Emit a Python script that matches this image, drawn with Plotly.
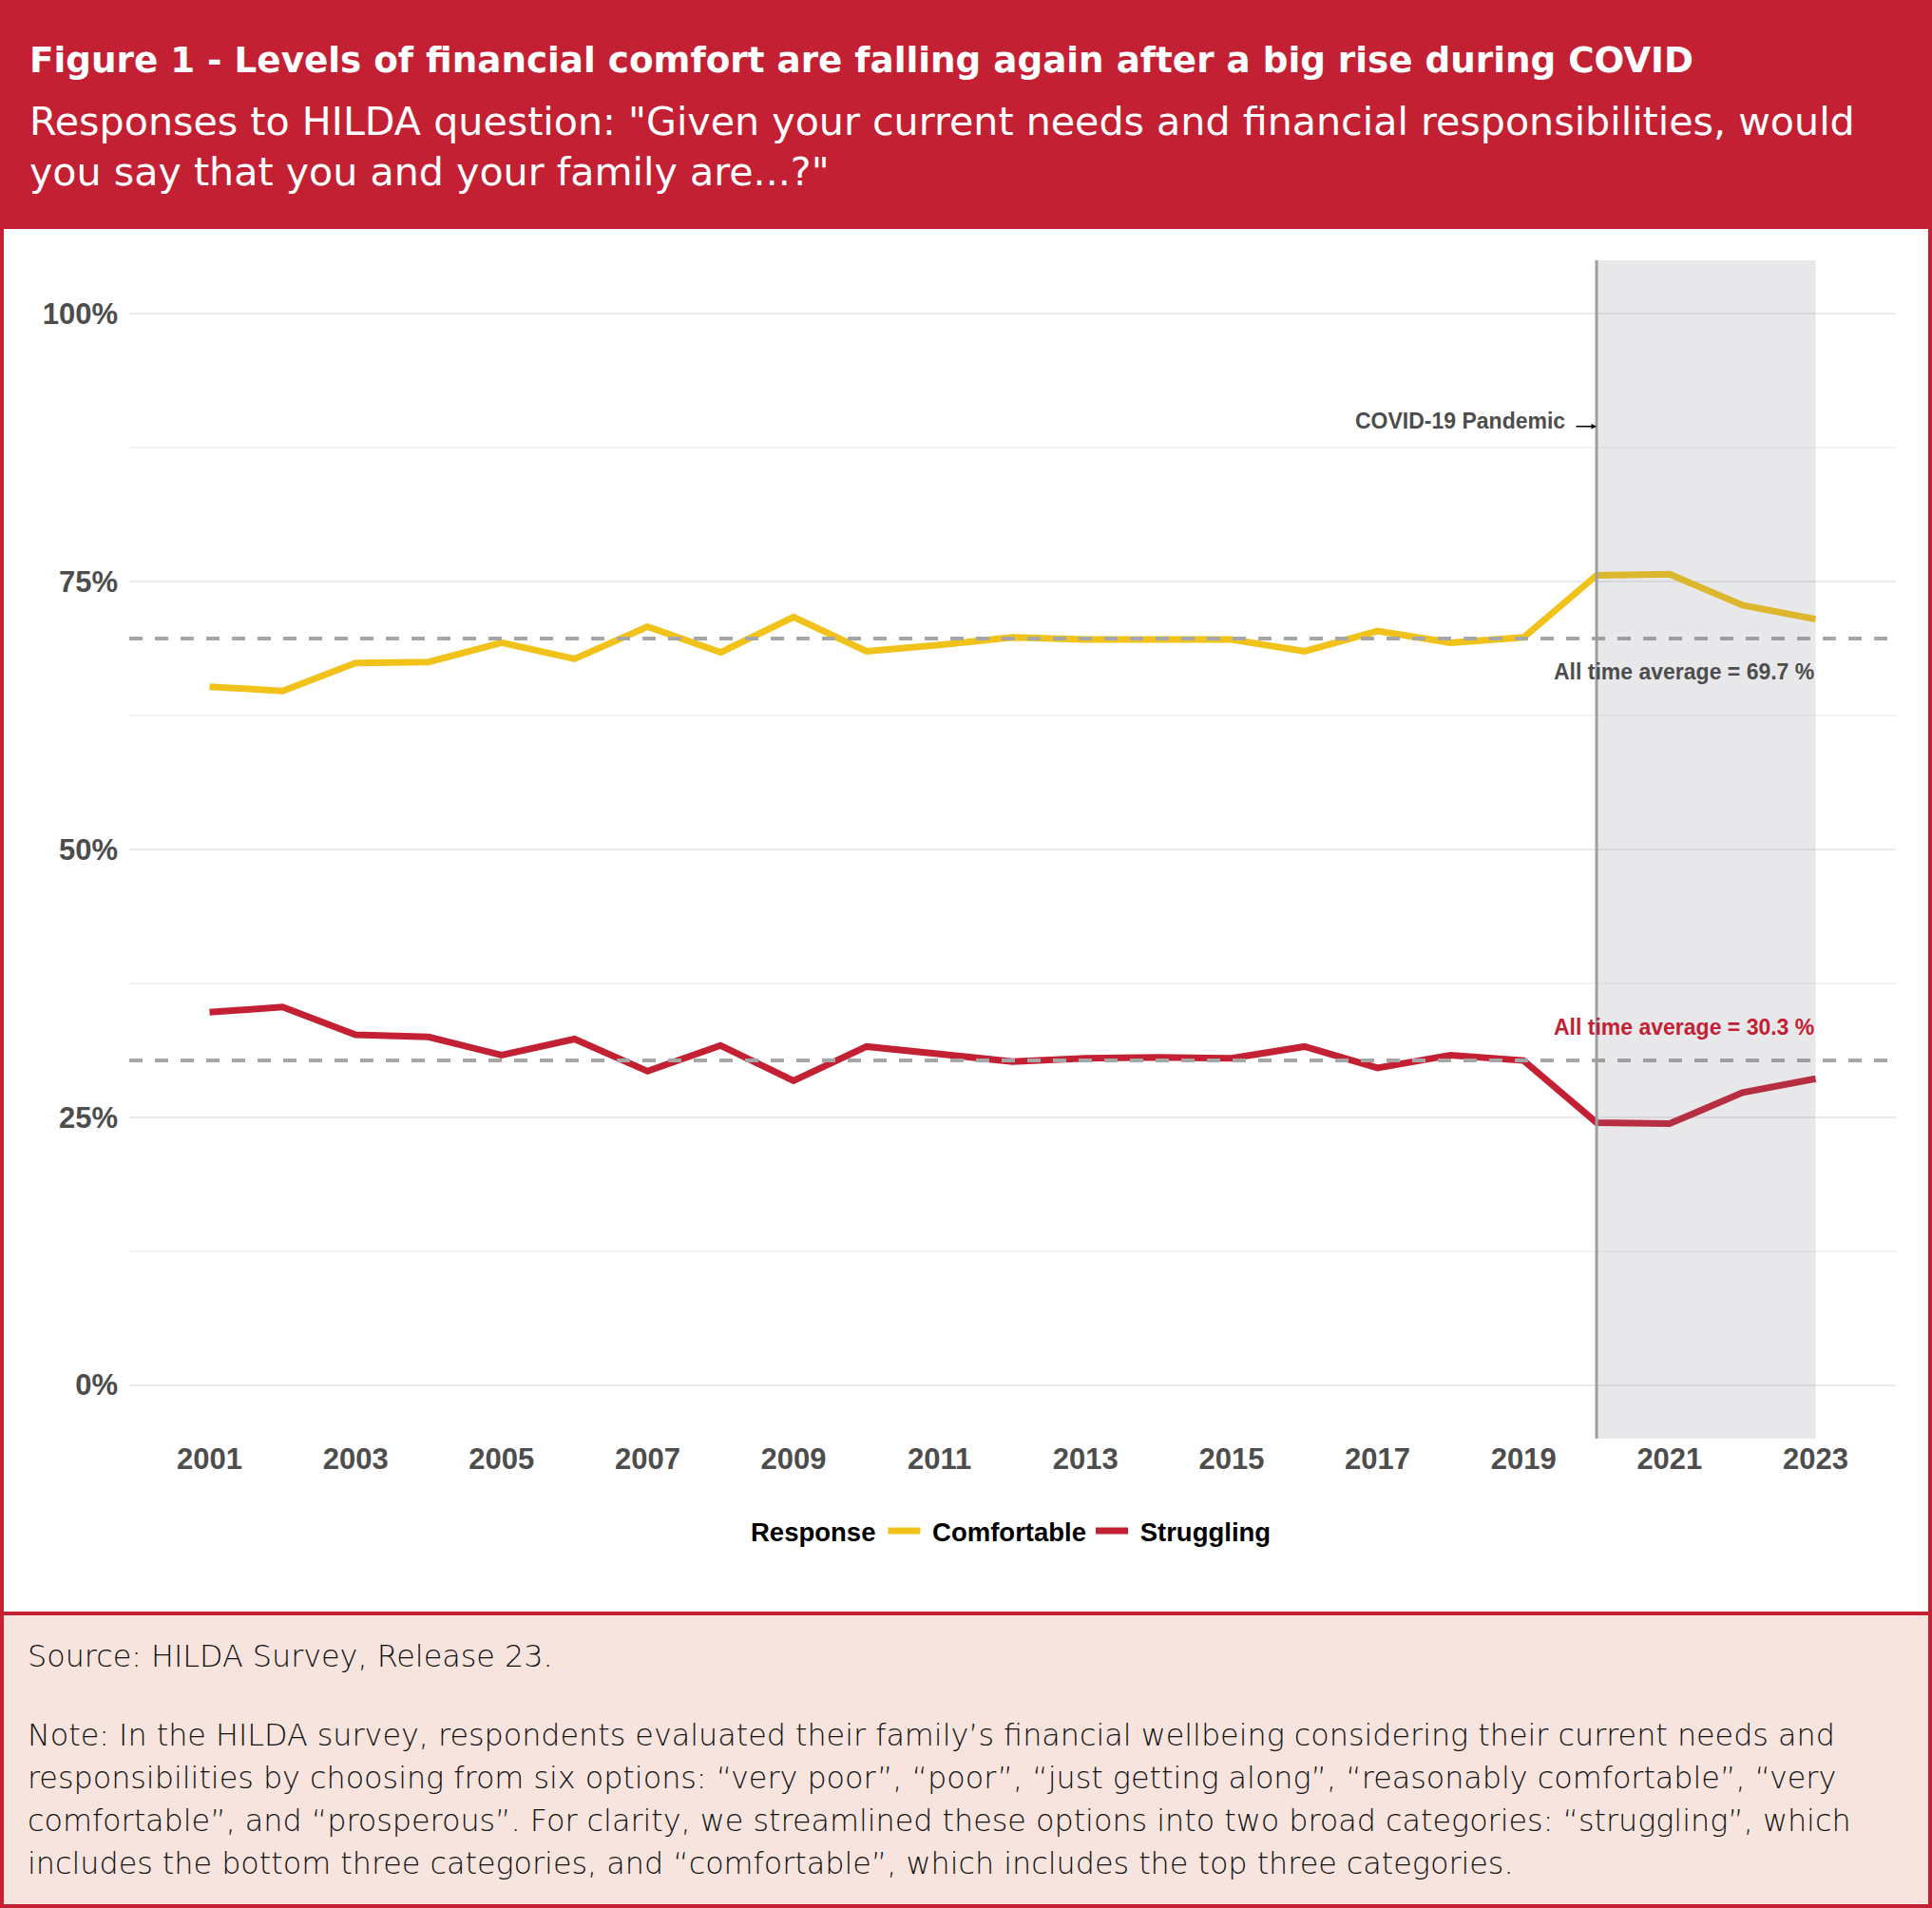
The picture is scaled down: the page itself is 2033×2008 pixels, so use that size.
import plotly.graph_objects as go

# ---------------- data ----------------
years = list(range(2001, 2024))
comfortable = [65.2, 64.8, 67.4, 67.5, 69.3, 67.8, 70.8, 68.4, 71.7, 68.5, 69.1, 69.8,
               69.6, 69.6, 69.6, 68.5, 70.4, 69.3, 69.8, 75.6, 75.7, 72.8, 71.5]
struggling = [34.8, 35.3, 32.7, 32.5, 30.8, 32.3, 29.3, 31.7, 28.4, 31.6, 30.9, 30.2,
              30.5, 30.6, 30.5, 31.6, 29.6, 30.8, 30.3, 24.5, 24.4, 27.3, 28.6]
series_names = ["Comfortable", "Struggling"]
avg_comfortable = 69.7
avg_struggling = 30.3
covid_start, covid_end = 2020, 2023
x_ticks = list(range(2001, 2024, 2))
y_ticks = [0, 25, 50, 75, 100]
y_tick_labels = ["0%", "25%", "50%", "75%", "100%"]
y_minor = [12.5, 37.5, 62.5, 87.5]

title = "Figure 1 - Levels of financial comfort are falling again after a big rise during COVID"
subtitle_lines = ['Responses to HILDA question: "Given your current needs and financial responsibilities, would',
                  'you say that you and your family are...?"']
source_text = "Source: HILDA Survey, Release 23."
note_lines = [
    "Note: In the HILDA survey, respondents evaluated their family\u2019s financial wellbeing considering their current needs and",
    "responsibilities by choosing from six options: \u201cvery poor\u201d, \u201cpoor\u201d, \u201cjust getting along\u201d, \u201creasonably comfortable\u201d, \u201cvery",
    "comfortable\u201d, and \u201cprosperous\u201d. For clarity, we streamlined these options into two broad categories: \u201cstruggling\u201d, which",
    "includes the bottom three categories, and \u201ccomfortable\u201d, which includes the top three categories.",
]

# ---------------- style ----------------
RED = "#C42033"
YELLOW = "#F1C31A"
GREY_TXT = "#4D4D4D"
PINK = "#F7E4DE"
HEAD_FONT = "DejaVu Sans"
W, H = 2033, 2008
L, R, T, B = 136, 38, 274, 494


def px(x):
    return (x - L) / (W - L - R)


def py(y):
    return (H - B - y) / (H - T - B)


fig = go.Figure()
fig.add_trace(go.Scatter(x=years, y=comfortable, mode="lines", name="\u00a0" + series_names[0],
                         line=dict(color=YELLOW, width=7)))
fig.add_trace(go.Scatter(x=years, y=struggling, mode="lines", name="\u00a0" + series_names[1],
                         line=dict(color=RED, width=7)))

shapes = []
# header & footer backgrounds
shapes.append(dict(type="rect", xref="paper", yref="paper", x0=px(0), x1=px(W), y0=py(241), y1=py(0),
                   fillcolor=RED, line=dict(width=0), layer="below"))
shapes.append(dict(type="rect", xref="paper", yref="paper", x0=px(0), x1=px(W), y0=py(H), y1=py(1698),
                   fillcolor=PINK, line=dict(width=0), layer="below"))
# average lines
for v in (avg_comfortable, avg_struggling):
    shapes.append(dict(type="line", xref="x domain", yref="y", x0=0, x1=1, y0=v, y1=v,
                       line=dict(color="#A6A6A6", width=4, dash="14px,13px"), layer="above"))
# covid shading
shapes.append(dict(type="rect", xref="x", yref="y domain", x0=covid_start, x1=covid_end, y0=0, y1=1,
                   fillcolor="rgba(120,120,135,0.17)", line=dict(width=0), layer="above"))
shapes.append(dict(type="line", xref="x", yref="y domain", x0=covid_start, x1=covid_start, y0=0, y1=1,
                   line=dict(color="#9E9E9E", width=3), layer="above"))
# separator and border
shapes.append(dict(type="line", xref="paper", yref="paper", x0=px(0), x1=px(W), y0=py(1698), y1=py(1698),
                   line=dict(color=RED, width=4), layer="above"))
shapes.append(dict(type="rect", xref="paper", yref="paper", x0=px(2), x1=px(W - 2), y0=py(H - 2), y1=py(2),
                   line=dict(color=RED, width=4), fillcolor="rgba(0,0,0,0)", layer="above"))

annotations = []
annotations.append(dict(xref="paper", yref="paper", x=px(29), y=py(63), xanchor="left", yanchor="middle",
                        text="<b>" + title + "</b>", showarrow=False,
                        font=dict(family=HEAD_FONT, size=37.3, color="white")))
for i, line in enumerate(subtitle_lines):
    annotations.append(dict(xref="paper", yref="paper", x=px(29), y=py(128 + 53 * i), xanchor="left",
                            yanchor="middle", text=line, showarrow=False,
                            font=dict(family=HEAD_FONT, size=41.2, color="white")))
annotations.append(dict(xref="paper", yref="paper", x=px(27), y=py(1743), xanchor="left", yanchor="middle",
                        text=source_text, showarrow=False,
                        font=dict(family=HEAD_FONT, size=31.8, color="#111111", weight=300)))
for i, line in enumerate(note_lines):
    annotations.append(dict(xref="paper", yref="paper", x=px(27), y=py(1825 + 45.3 * i), xanchor="left",
                            yanchor="middle", text=line, showarrow=False,
                            font=dict(family=HEAD_FONT, size=31.8, color="#111111", weight=300)))
# chart annotations
annotations.append(dict(xref="x", yref="y", x=2019.59, y=90, xanchor="right", yanchor="middle",
                        text="COVID-19 Pandemic", showarrow=False,
                        font=dict(family="Arial", size=23, color=GREY_TXT, weight="bold")))
annotations.append(dict(xref="x", yref="y", x=2020, y=89.5, ax=2019.70, ay=89.5, axref="x", ayref="y",
                        text="", showarrow=True, arrowhead=2, arrowsize=0.7, arrowwidth=1.6,
                        arrowcolor="black", standoff=0))
annotations.append(dict(xref="x", yref="y", x=2023, y=avg_comfortable - 3.1, xanchor="right",
                        yanchor="middle", text="All time average = %.1f %%" % avg_comfortable,
                        showarrow=False, font=dict(family="Arial", size=23, color=GREY_TXT, weight="bold")))
annotations.append(dict(xref="x", yref="y", x=2023, y=avg_struggling + 3.1, xanchor="right",
                        yanchor="middle", text="All time average = %.1f %%" % avg_struggling,
                        showarrow=False, font=dict(family="Arial", size=23, color=RED, weight="bold")))

fig.update_layout(
    width=W, height=H,
    margin=dict(l=L, r=R, t=T, b=B, pad=0),
    paper_bgcolor="white", plot_bgcolor="white",
    shapes=shapes, annotations=annotations,
    showlegend=True,
    legend=dict(orientation="h", x=0.5, xanchor="center", y=py(1611), yanchor="middle",
                title=dict(text="Response", side="left",
                           font=dict(family="Arial", size=27.5, color="black", weight="bold")),
                font=dict(family="Arial", size=27.5, color="black", weight="bold"),
                itemwidth=34, bgcolor="rgba(0,0,0,0)"),
    xaxis=dict(range=[1999.9, 2024.1], tickvals=x_ticks, showgrid=False, zeroline=False,
               showline=False, ticks="",
               tickfont=dict(family="Arial", size=31, color=GREY_TXT, weight="bold")),
    yaxis=dict(range=[-5, 105], tickvals=y_ticks, ticktext=y_tick_labels, showgrid=True,
               gridcolor="#EBEBEB", gridwidth=2, zeroline=False, showline=False, ticks="",
               ticklabelstandoff=11,
               minor=dict(tickvals=y_minor, showgrid=True, gridcolor="#F4F4F4", gridwidth=1.5),
               tickfont=dict(family="Arial", size=31, color=GREY_TXT, weight="bold")),
)

fig.write_html("out.html", config={"displayModeBar": False},
               post_script="document.body.style.margin='0';document.body.style.padding='0';"
                           "document.documentElement.style.overflow='hidden';")
